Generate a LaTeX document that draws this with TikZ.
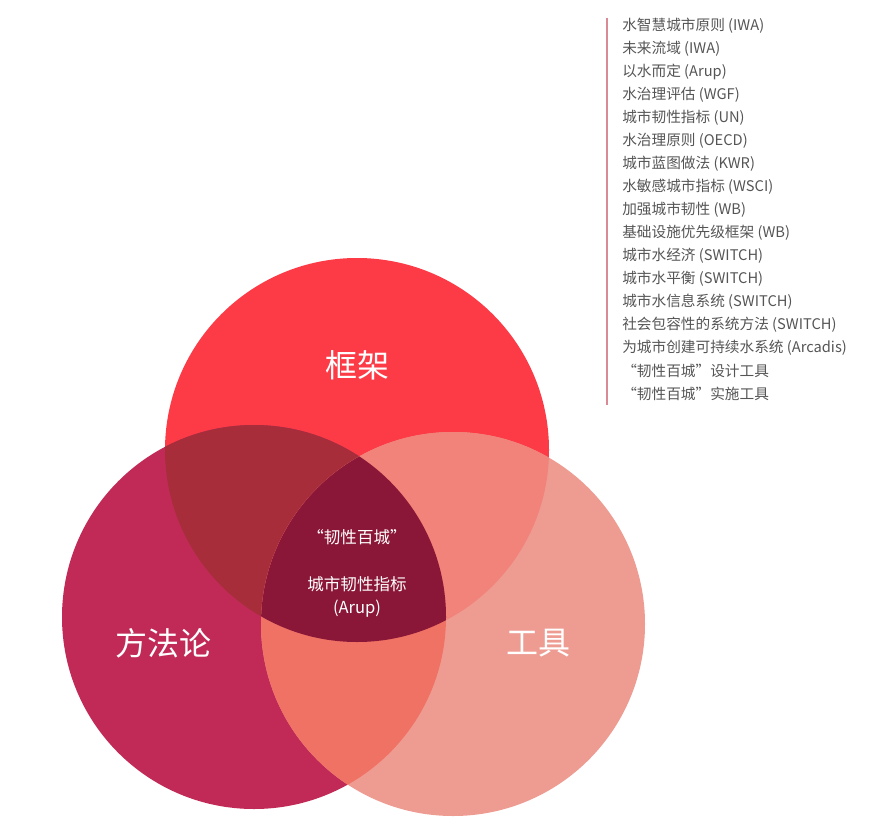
\documentclass[tikz,border=0pt]{standalone}
\usepackage{fontspec}
\newfontfamily\cjk{Noto Sans CJK SC}
\usepackage{tikz}

\definecolor{topred}{HTML}{FC3B47}
\definecolor{leftred}{HTML}{C12A57}
\definecolor{rightred}{HTML}{EE9C92}
\definecolor{topleft}{HTML}{A72D3B}
\definecolor{topright}{HTML}{F1837A}
\definecolor{leftright}{HTML}{F07265}
\definecolor{allthree}{HTML}{8A1738}
\definecolor{listgray}{HTML}{555555}
\definecolor{listline}{HTML}{D98A95}

\begin{document}
\begin{tikzpicture}[x=0.75pt, y=-0.75pt,
    big/.style={text=white, font=\cjk\fontsize{24}{28}\selectfont},
    mid/.style={text=white, font=\cjk\fontsize{12.4}{17.5}\selectfont, align=center},
    item/.style={anchor=west, inner sep=0pt, text=listgray, font=\cjk\fontsize{11}{13}\selectfont}]

    \useasboundingbox (0, 0) rectangle (880, 834);

    \coordinate (t) at (357, 450);
    \coordinate (l) at (254, 617);
    \coordinate (r) at (453, 624);

    % the three circles
    \fill [topred] (t) circle [radius=144pt];
    \fill [leftred] (l) circle [radius=144pt];
    \fill [rightred] (r) circle [radius=144pt];

    % overlaps
    \begin{scope}
      \clip (t) circle [radius=144pt];
      \fill [topleft] (l) circle [radius=144pt];
      \fill [topright] (r) circle [radius=144pt];
    \end{scope}
    \begin{scope}
      \clip (l) circle [radius=144pt];
      \fill [leftright] (r) circle [radius=144pt];
    \end{scope}
    \begin{scope}
      \clip (t) circle [radius=144pt];
      \clip (l) circle [radius=144pt];
      \fill [allthree] (r) circle [radius=144pt];
    \end{scope}

    \node [big] (frame) at (357, 365) {框架};
    \node [big] (method) at (163, 643) {方法论};
    \node [big] (tool) at (538, 643) {工具};
    \node [mid] (hundred) at (357, 537) {“韧性百城”};
    \node [mid] (index) at (357, 597) {城市韧性指标\\(Arup)};

    % list on the right
    \coordinate (lt) at (607, 18);
    \coordinate (lb) at (607, 405);
    \draw [listline, line width=0.9pt] (lt) -- (lb);

    \node [item] (l1) at (622, 26) {水智慧城市原则 (IWA)};
    \node [item] (l2) at (622, 49) {未来流域 (IWA)};
    \node [item] (l3) at (622, 72) {以水而定 (Arup)};
    \node [item] (l4) at (622, 95) {水治理评估 (WGF)};
    \node [item] (l5) at (622, 118) {城市韧性指标 (UN)};
    \node [item] (l6) at (622, 141) {水治理原则 (OECD)};
    \node [item] (l7) at (622, 164) {城市蓝图做法 (KWR)};
    \node [item] (l8) at (622, 187) {水敏感城市指标 (WSCI)};
    \node [item] (l9) at (622, 210) {加强城市韧性 (WB)};
    \node [item] (l10) at (622, 233) {基础设施优先级框架 (WB)};
    \node [item] (l11) at (622, 256) {城市水经济 (SWITCH)};
    \node [item] (l12) at (622, 279) {城市水平衡 (SWITCH)};
    \node [item] (l13) at (622, 302) {城市水信息系统 (SWITCH)};
    \node [item] (l14) at (622, 325) {社会包容性的系统方法 (SWITCH)};
    \node [item] (l15) at (622, 348) {为城市创建可持续水系统 (Arcadis)};
    \node [item] (l16) at (622, 371) {“韧性百城”设计工具};
    \node [item] (l17) at (622, 394) {“韧性百城”实施工具};

\end{tikzpicture}
\end{document}
